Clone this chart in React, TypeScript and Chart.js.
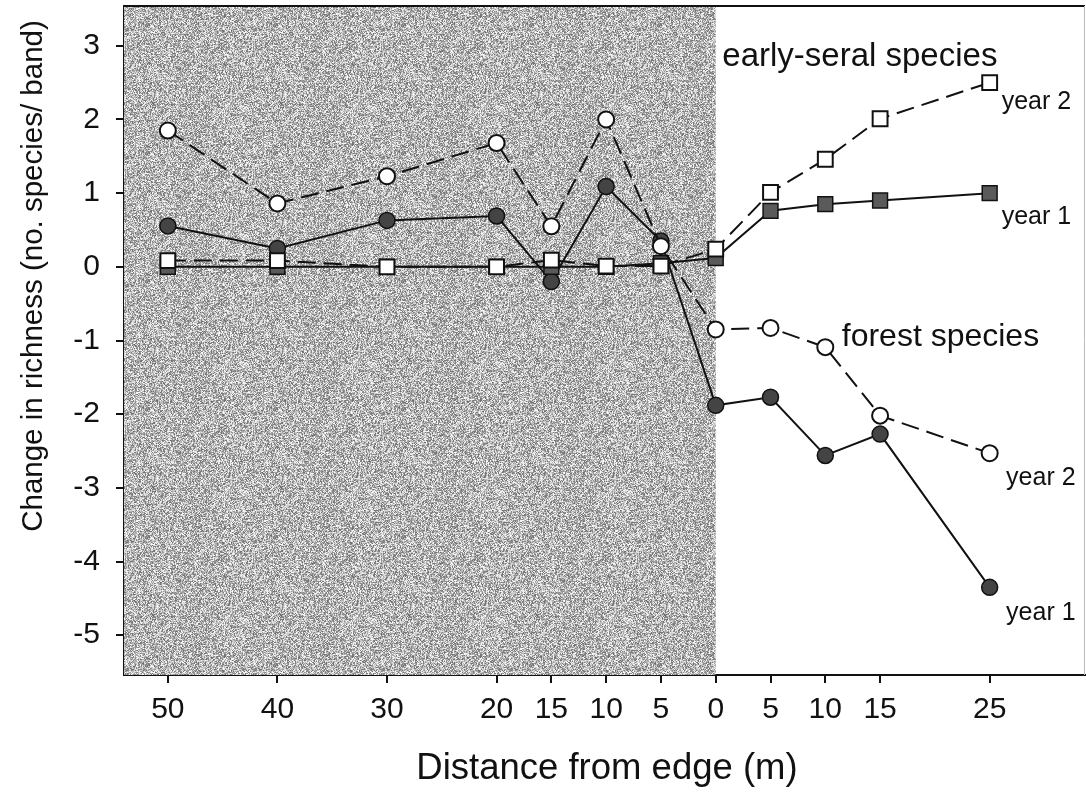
import { useEffect, useRef } from 'react';
import { Chart, registerables } from 'chart.js';

Chart.register(...registerables);

// ---------- data ----------
const distances = [-50, -40, -30, -20, -15, -10, -5, 0, 5, 10, 15, 25];
const xTickValues = [-50, -40, -30, -20, -15, -10, -5, 0, 5, 10, 15, 25];
const yTickValues = [3, 2, 1, 0, -1, -2, -3, -4, -5];

const forestYear2 = [1.85, 0.86, 1.23, 1.68, 0.55, 2.0, 0.28, -0.85, -0.83, -1.09, -2.02, -2.53];
const forestYear1 = [0.555, 0.25, 0.63, 0.69, -0.2, 1.09, 0.35, -1.88, -1.77, -2.56, -2.27, -4.35];
const earlyYear2 = [0.085, 0.085, 0.0, 0.0, 0.09, 0.01, 0.01, 0.24, 1.01, 1.46, 2.01, 2.5];
const earlyYear1 = [0.0, 0.0, 0.0, 0.0, 0.0, 0.0, 0.05, 0.12, 0.76, 0.85, 0.9, 1.0];

const xTitle = 'Distance from edge (m)';
const yTitle = 'Change in richness (no. species/ band)';

// annotation texts with anchor in data units
const labelTexts = ['early-seral species', 'year 2', 'year 1', 'forest species', 'year 2', 'year 1'];
const labelX = [0.6, 26.1, 26.1, 11.5, 26.5, 26.5];
const labelY = [2.85, 2.24, 0.67, -0.96, -2.87, -4.7];
const labelSize = [33, 25, 25, 32, 25, 25];

const FONT = '"Liberation Sans", Arial, Helvetica, sans-serif';

function makePattern(): CanvasPattern | string {
  const c = document.createElement('canvas');
  c.width = 128;
  c.height = 128;
  const g = c.getContext('2d');
  if (!g) return '#b0b0b0';
  const img = g.createImageData(128, 128);
  let s = 987654321;
  const next = () => {
    s = (Math.imul(s, 1103515245) + 12345) >>> 0;
    return (s >>> 8) / 16777216;
  };
  for (let i = 0; i < 128 * 128; i++) {
    const r = next();
    const v = Math.round(108 + r * 147);
    img.data[i * 4] = v;
    img.data[i * 4 + 1] = v;
    img.data[i * 4 + 2] = v;
    img.data[i * 4 + 3] = 255;
  }
  g.putImageData(img, 0, 0);
  const p = g.createPattern(c, 'repeat');
  return p || '#b0b0b0';
}

export default function App() {
  const ref = useRef<HTMLCanvasElement | null>(null);

  useEffect(() => {
    const canvas = ref.current;
    if (!canvas) return;
    const pattern = makePattern();

    const shadePlugin = {
      id: 'shade',
      beforeDatasetsDraw(chart: any) {
        const { ctx, chartArea } = chart;
        const x0 = chart.scales.x.getPixelForValue(0);
        ctx.save();
        ctx.fillStyle = pattern as any;
        ctx.fillRect(chartArea.left, chartArea.top, x0 - chartArea.left, chartArea.bottom - chartArea.top);
        ctx.strokeStyle = '#111';
        ctx.lineWidth = 2;
        ctx.beginPath();
        ctx.moveTo(chartArea.left, chartArea.top);
        ctx.lineTo(chartArea.right, chartArea.top);
        ctx.stroke();
        ctx.strokeStyle = '#bbb';
        ctx.lineWidth = 1;
        ctx.beginPath();
        ctx.moveTo(chartArea.right - 0.5, chartArea.top);
        ctx.lineTo(chartArea.right - 0.5, chartArea.bottom);
        ctx.stroke();
        ctx.restore();
      },
    };

    const textPlugin = {
      id: 'texts',
      afterDraw(chart: any) {
        const { ctx } = chart;
        const xs = chart.scales.x;
        const ys = chart.scales.y;
        ctx.save();
        ctx.fillStyle = '#111';
        ctx.textBaseline = 'middle';
        ctx.textAlign = 'left';
        for (let i = 0; i < labelTexts.length; i++) {
          ctx.font = `${labelSize[i]}px ${FONT}`;
          ctx.fillText(labelTexts[i], xs.getPixelForValue(labelX[i]), ys.getPixelForValue(labelY[i]));
        }
        ctx.textAlign = 'center';
        ctx.font = `36.5px ${FONT}`;
        ctx.fillText(xTitle, 607, 769);
        ctx.translate(34, 276);
        ctx.rotate(-Math.PI / 2);
        ctx.font = `29.5px ${FONT}`;
        ctx.fillText(yTitle, 0, 0);
        ctx.restore();
      },
    };

    const chart = new Chart(canvas, {
      type: 'line',
      data: {
        datasets: [
          {
            label: 'early-seral year 2',
            data: distances.map((d, i) => ({ x: d, y: earlyYear2[i] })),
            borderColor: '#111',
            borderWidth: 2,
            borderDash: [18, 8],
            pointStyle: 'rect',
            pointRadius: 10.5,
            pointBackgroundColor: '#ffffff',
            pointBorderColor: '#111',
            pointBorderWidth: 2,
            tension: 0,
          },
          {
            label: 'forest year 2',
            data: distances.map((d, i) => ({ x: d, y: forestYear2[i] })),
            borderColor: '#111',
            borderWidth: 2,
            borderDash: [18, 8],
            pointStyle: 'circle',
            pointRadius: 8,
            pointBackgroundColor: '#ffffff',
            pointBorderColor: '#111',
            pointBorderWidth: 2,
            tension: 0,
          },
          {
            label: 'early-seral year 1',
            data: distances.map((d, i) => ({ x: d, y: earlyYear1[i] })),
            borderColor: '#111',
            borderWidth: 2,
            pointStyle: 'rect',
            pointRadius: 10.5,
            pointBackgroundColor: '#5a5a5a',
            pointBorderColor: '#111',
            pointBorderWidth: 1.5,
            tension: 0,
          },
          {
            label: 'forest year 1',
            data: distances.map((d, i) => ({ x: d, y: forestYear1[i] })),
            borderColor: '#111',
            borderWidth: 2,
            pointStyle: 'circle',
            pointRadius: 8,
            pointBackgroundColor: '#444444',
            pointBorderColor: '#111',
            pointBorderWidth: 1.5,
            tension: 0,
          },
        ],
      },
      options: {
        animation: false,
        responsive: false,
        maintainAspectRatio: false,
        layout: { autoPadding: false, padding: { top: 6, right: 1, left: 0, bottom: 0 } },
        plugins: {
          legend: { display: false },
          tooltip: { enabled: false },
          title: { display: false },
        },
        scales: {
          x: {
            type: 'linear',
            min: -54,
            max: 33.7,
            afterBuildTicks(scale: any) {
              scale.ticks = xTickValues.map((v) => ({ value: v }));
            },
            afterFit(scale: any) {
              scale.height = 119;
              scale.paddingLeft = 0;
              scale.paddingRight = 0;
            },
            ticks: {
              autoSkip: false,
              maxRotation: 0,
              padding: 9,
              color: '#111',
              font: { family: FONT, size: 30 },
              callback: (v: any) => String(Math.abs(Number(v))),
            },
            grid: {
              display: true,
              drawOnChartArea: false,
              drawTicks: true,
              tickLength: 8,
              color: '#111',
              lineWidth: 2,
            },
            border: { display: true, color: '#111', width: 2 },
          },
          y: {
            type: 'linear',
            min: -5.54,
            max: 3.54,
            afterBuildTicks(scale: any) {
              scale.ticks = yTickValues.map((v) => ({ value: v }));
            },
            afterFit(scale: any) {
              scale.width = 124;
              scale.paddingTop = 0;
              scale.paddingBottom = 0;
            },
            ticks: {
              autoSkip: false,
              padding: 16,
              color: '#111',
              font: { family: FONT, size: 30 },
              callback: (v: any) => String(v),
            },
            grid: {
              display: true,
              drawOnChartArea: false,
              drawTicks: true,
              tickLength: 8,
              color: '#111',
              lineWidth: 2,
            },
            border: { display: true, color: '#111', width: 2 },
          },
        },
      },
      plugins: [shadePlugin, textPlugin],
    });

    return () => chart.destroy();
  }, []);

  return (
    <div style={{ position: 'fixed', left: 0, top: 0, width: 1086, height: 794, background: '#fff' }}>
      <canvas ref={ref} width={1086} height={794} style={{ width: 1086, height: 794, display: 'block' }} />
    </div>
  );
}
